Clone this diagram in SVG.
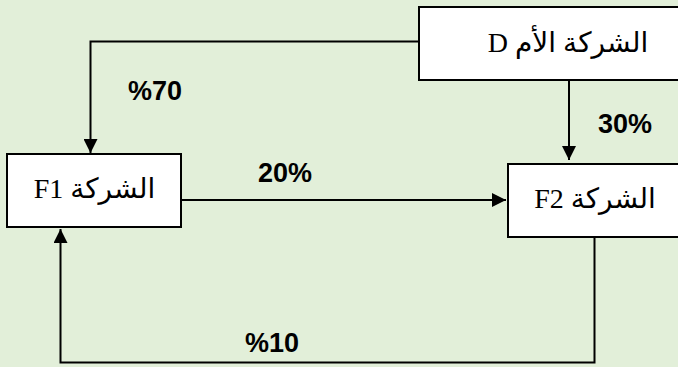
<svg xmlns="http://www.w3.org/2000/svg" width="678" height="367" viewBox="0 0 678 367">
<style>
.box{fill:#fff;stroke:#000;stroke-width:2}
.name{font-family:"Liberation Serif","DejaVu Sans",serif;font-size:28px;fill:#000}
.lbl{font-family:"Liberation Sans",Arial,sans-serif;font-weight:bold;font-size:27px;fill:#000}
.edge{fill:none;stroke:#000;stroke-width:2}
</style>
<defs>
<marker id="arr" markerUnits="userSpaceOnUse" markerWidth="14" markerHeight="14" refX="14" refY="7" orient="auto">
<path d="M0,0 L14,7 L0,14 z" fill="#000"/>
</marker>
</defs>
<rect x="0" y="0" width="678" height="367" fill="#E2EFD9"/>
<g id="connectors">
<path class="edge" d="M419 41.5 H90.5 V153" marker-end="url(#arr)"/>
<path class="edge" d="M569 80 V160" marker-end="url(#arr)"/>
<path class="edge" d="M182 200 H506" marker-end="url(#arr)"/>
<path class="edge" d="M594.5 238 V362.5 H60.5 V229" marker-end="url(#arr)"/>
<text class="lbl" x="128" y="100">%70</text>
<text class="lbl" x="258" y="182">20%</text>
<text class="lbl" x="598" y="133">30%</text>
<text class="lbl" x="245" y="352">%10</text>
</g>
<g id="D">
<rect class="box" x="419" y="7" width="300" height="73"/>
<text class="name" x="568" y="52" text-anchor="middle" direction="rtl">الشركة الأم D</text>
</g>
<g id="F1">
<rect class="box" x="7" y="154" width="174" height="73"/>
<text class="name" x="94.5" y="198" text-anchor="middle" direction="rtl">الشركة F1</text>
</g>
<g id="F2">
<rect class="box" x="508" y="164" width="200" height="73"/>
<text class="name" x="595" y="208" text-anchor="middle" direction="rtl">الشركة F2</text>
</g>
</svg>
